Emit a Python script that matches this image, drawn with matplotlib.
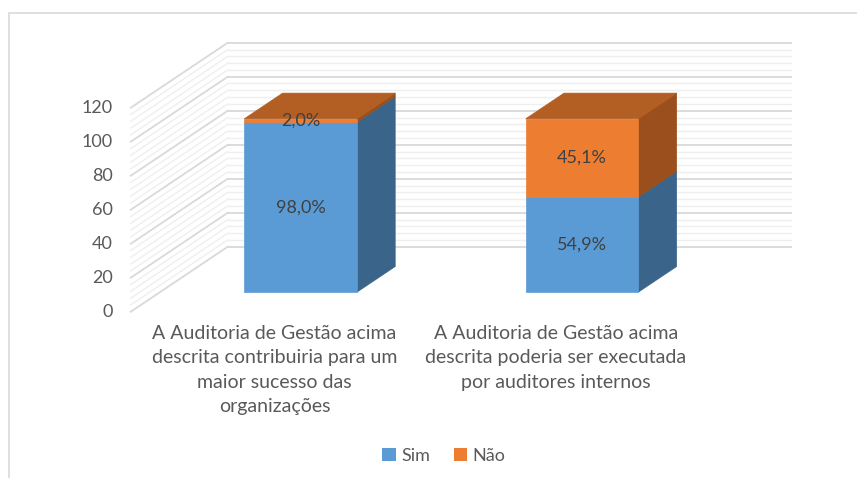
import matplotlib
matplotlib.use("Agg")
import matplotlib.pyplot as plt
from matplotlib.patches import Polygon, Rectangle, Patch

plt.rcParams['font.family'] = ['Lato', 'DejaVu Sans']

categorias = ["A Auditoria de Gestão acima\ndescrita contribuiria para um\nmaior sucesso das\norganizações",
              "A Auditoria de Gestão acima\ndescrita poderia ser executada\npor auditores internos"]
series = ["Sim", "Não"]
sim = [98.0, 54.9]
nao = [2.0, 45.1]
rotulos = [["98,0%", "2,0%"], ["54,9%", "45,1%"]]
yticks = [0, 20, 40, 60, 80, 100, 120]

W, H = 857, 478
sx = 281.4          # pixels por categoria
sy = 1.7            # pixels por unidade de valor
x0_px, y0_px = 271.5, 311.7
ddx = 97 / sx       # deslocamento de profundidade
ddy = 65 / sy
esc_barra = 1.02    # barras um pouco mais perto (perspectiva)

cor_frente = ["#5B9BD5", "#ED7D31"]
cor_lado = ["#3A6489", "#9A4F1C"]
cor_topo = ["#3F6E99", "#B35E22"]


def proj(x, v, d):
    return x + d * ddx, v + d * ddy


fig = plt.figure(figsize=(W / 100, H / 100), dpi=100)
ax = fig.add_axes([0, 0, 1, 1])
ax.set_xlim(-x0_px / sx, (W - x0_px) / sx)
ax.set_ylim(-(H - y0_px) / sy, y0_px / sy)
ax.axis("off")

# moldura
fig.patches.append(Rectangle((9 / W, -0.1), 2, (H - 13) / H + 0.1, transform=fig.transFigure,
                             fill=False, edgecolor="#d9d9d9", lw=1.2))

# paredes com grade
for v in range(0, 121, 4):
    major = v % 20 == 0
    c = "#d9d9d9" if major else "#efefef"
    lw = 1.3 if major else 1.0
    xa, ya = proj(-0.5, v, 1)
    xb, yb = proj(1.5, v, 1)
    ax.plot([xa, xb], [ya, yb], color=c, lw=lw, zorder=1)
    xc, yc = proj(-0.5, v, 0)
    ax.plot([xc, xa], [yc, ya], color=c, lw=lw, zorder=1)

for v in yticks:
    xt, yt = proj(-0.5, v, 0)
    ax.text(xt - 18 / sx, yt, str(v), ha="right", va="center", fontsize=13, color="#595959")

# barras 3D empilhadas
d0, d1 = 0.3, 0.695
w = 0.2
for i in range(len(categorias)):
    base = 0
    vals = [sim[i], nao[i]]
    for k, val in enumerate(vals):
        topo = base + val
        b, t = base * esc_barra, topo * esc_barra
        xl, xr = i - w, i + w
        frente = [proj(xl, b, d0), proj(xr, b, d0), proj(xr, t, d0), proj(xl, t, d0)]
        lado = [proj(xr, b, d0), proj(xr, t, d0), proj(xr, t, d1), proj(xr, b, d1)]
        ax.add_patch(Polygon(lado, closed=True, facecolor=cor_lado[k], edgecolor=cor_lado[k], lw=0.5, zorder=3))
        ax.add_patch(Polygon(frente, closed=True, facecolor=cor_frente[k], edgecolor=cor_frente[k], lw=0.5, zorder=4))
        if k == len(vals) - 1:
            tampa = [proj(xl, t, d0), proj(xr, t, d0), proj(xr, t, d1), proj(xl, t, d1)]
            ax.add_patch(Polygon(tampa, closed=True, facecolor=cor_topo[k], edgecolor=cor_topo[k], lw=0.5, zorder=4))
        xm, ym = proj(i, (b + t) / 2, d0)
        ax.text(xm, ym, rotulos[i][k], ha="center", va="center", fontsize=13, color="#404040", zorder=6)
        base = topo

for i, cat in enumerate(categorias):
    ax.text(i + 3 / sx, -(325 - y0_px) / sy, cat, ha="center", va="top", fontsize=14,
            color="#595959", linespacing=1.53)

handles = [Patch(facecolor=cor_frente[k], label=series[k]) for k in range(2)]
fig.legend(handles=handles, loc="center", bbox_to_anchor=(444 / W, 1 - 456 / H), ncol=2,
           frameon=False, fontsize=13, handlelength=0.75, handleheight=0.75,
           handletextpad=0.3, columnspacing=1.3, labelcolor="#595959")

fig.savefig("out.png", dpi=100)
